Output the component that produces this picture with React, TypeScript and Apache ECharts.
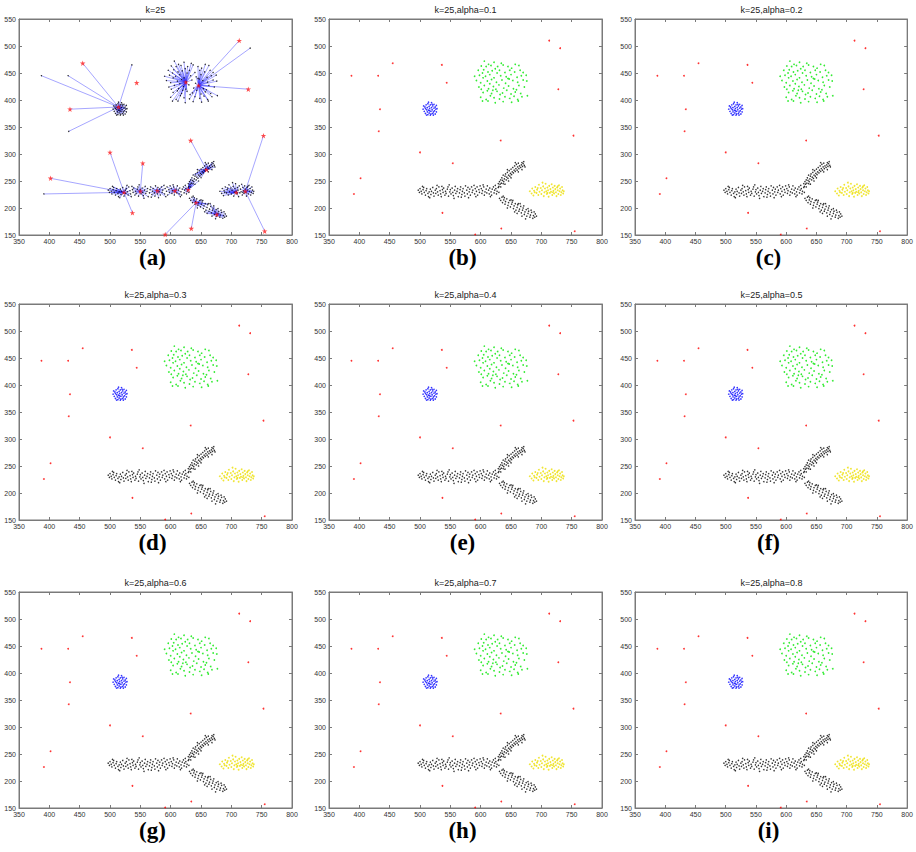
import React, { useEffect, useRef } from 'react';
import * as echarts from 'echarts';

type P = [number, number];

const panelTitles = [
  'k=25',
  'k=25,alpha=0.1',
  'k=25,alpha=0.2',
  'k=25,alpha=0.3',
  'k=25,alpha=0.4',
  'k=25,alpha=0.5',
  'k=25,alpha=0.6',
  'k=25,alpha=0.7',
  'k=25,alpha=0.8',
];
const panelLabels = ['(a)', '(b)', '(c)', '(d)', '(e)', '(f)', '(g)', '(h)', '(i)'];

// Outliers drawn as red stars in (a)
const starOutliers: P[] = [
  [455, 468], [434, 383], [500, 303], [402, 255], [554, 283], [537, 191], [591, 151],
  [634, 162], [633, 325], [713, 510], [728, 420], [753, 334], [755, 157],
];
// Outlier drawn as red star in (a) with no link
const isolatedStars: P[] = [[544, 432]];
// Outliers drawn as small black dots in (a)
const dotOutliers: P[] = [[387, 445], [431, 445], [432, 342], [391, 226], [536, 465], [731, 496]];

// Cluster centres in (a)
const centers: P[] = [
  [514, 387], [625, 433], [646, 427], [523, 229], [550, 231], [578, 232], [607, 232],
  [629, 234], [659, 271], [642, 210], [676, 188], [708, 229], [723, 231],
];

const blueCluster: P[] = [
  [505, 383], [507, 379], [508, 387], [509, 375], [510, 391], [511, 382], [512, 378], [512, 386],
  [513, 373], [513, 393], [514, 381], [515, 388], [515, 376], [516, 384], [517, 372], [517, 391],
  [518, 379], [519, 386], [519, 395], [520, 382], [521, 375], [521, 389], [522, 378], [523, 385],
  [523, 392], [524, 380], [525, 374], [525, 387], [526, 383], [527, 378], [527, 390], [509, 384],
  [511, 372], [514, 396], [506, 389], [518, 374], [520, 392], [522, 372], [516, 380], [528, 384],
];

const greenCluster: P[] = [
  [606, 472], [622, 470], [634, 468], [613, 466],
  [601, 463], [609, 462], [617, 464], [628, 462], [637, 465], [645, 462], [657, 466], [663, 464], [651, 459], [624, 458],
  [596, 455], [605, 456], [612, 452], [619, 454], [631, 455], [640, 451], [648, 455], [656, 452], [665, 455], [670, 451], [627, 450], [603, 450],
  [590, 444], [598, 446], [608, 444], [615, 447], [622, 441], [633, 445], [642, 443], [650, 447], [660, 442], [667, 445], [675, 446], [645, 440], [604, 441],
  [593, 436], [600, 432], [611, 435], [618, 438], [626, 433], [635, 437], [641, 431], [653, 436], [661, 433], [670, 437], [676, 435], [615, 430], [647, 439],
  [597, 424], [606, 427], [613, 421], [621, 425], [630, 428], [638, 422], [646, 426], [654, 421], [663, 427], [672, 424], [601, 420], [625, 420], [659, 419],
  [604, 414], [611, 417], [618, 412], [627, 416], [636, 413], [643, 418], [650, 411], [657, 415], [666, 412], [677, 408], [620, 418], [632, 410],
  [600, 405], [609, 401], [616, 408], [622, 404], [631, 402], [640, 406], [648, 403], [661, 401], [668, 406], [612, 398], [655, 407],
  [624, 395], [637, 397], [651, 396], [603, 398], [662, 398],
];

const yellowCluster: P[] = [
  [681, 231], [684, 227], [685, 236], [687, 223], [688, 232], [690, 239], [692, 228], [693, 234],
  [695, 224], [696, 243], [697, 230], [699, 237], [700, 226], [701, 233], [703, 240], [704, 222],
  [705, 229], [706, 236], [707, 245], [708, 231], [709, 226], [710, 238], [711, 233], [712, 221],
  [713, 241], [714, 228], [715, 235], [716, 230], [717, 244], [718, 224], [719, 238], [720, 232],
  [721, 227], [722, 241], [723, 235], [724, 229], [725, 222], [726, 238], [727, 233], [728, 226],
  [729, 242], [730, 231], [731, 236], [732, 224], [733, 229], [734, 239], [735, 233], [736, 227],
  [694, 237], [702, 247], [710, 228], [719, 229], [727, 240], [689, 229], [737, 231],
];

const blackBand: P[] = [
  [497, 233], [499, 229], [500, 236], [502, 231], [503, 226], [505, 234], [506, 238], [507, 229],
  [509, 224], [510, 232], [511, 236], [513, 227], [514, 221], [515, 230], [517, 235], [518, 225],
  [519, 231], [521, 238], [522, 228], [523, 222], [525, 233], [526, 227], [527, 236], [529, 230],
  [530, 224], [531, 239], [533, 232], [534, 226], [535, 221], [537, 234], [538, 229], [539, 237],
  [541, 224], [542, 231], [543, 227], [545, 235], [546, 239], [547, 222], [549, 230], [550, 234],
  [551, 226], [553, 237], [554, 229], [555, 223], [557, 233], [558, 240], [559, 227], [561, 231],
  [562, 236], [563, 221], [565, 228], [566, 234], [567, 239], [569, 225], [570, 231], [571, 236],
  [573, 228], [574, 222], [575, 241], [577, 233], [578, 226], [579, 238], [581, 230], [582, 235],
  [583, 224], [585, 239], [586, 229], [587, 233], [589, 242], [590, 226], [591, 236], [593, 231],
  [594, 239], [595, 224], [597, 234], [598, 229], [599, 241], [601, 236], [602, 227], [603, 232],
  [605, 239], [606, 224], [607, 230], [609, 235], [610, 228], [611, 241], [613, 233], [614, 226],
  [615, 237], [617, 230], [618, 224], [619, 235], [621, 239], [622, 228], [623, 233], [625, 236],
  [626, 226], [627, 231], [629, 238], [630, 229], [504, 240], [516, 219], [528, 242], [536, 240],
  [548, 243], [556, 218], [568, 220], [580, 219], [592, 221], [604, 243], [616, 221], [624, 242],
];

const blackUpper: P[] = [
  [630, 240], [632, 244], [631, 249], [634, 246], [636, 251], [635, 256], [638, 249], [639, 254],
  [640, 259], [642, 252], [643, 257], [641, 263], [645, 255], [646, 261], [644, 266], [648, 259],
  [649, 264], [647, 269], [651, 262], [652, 267], [650, 272], [654, 265], [655, 270], [653, 275],
  [657, 268], [658, 273], [656, 278], [660, 270], [661, 276], [659, 281], [663, 273], [664, 278],
  [662, 283], [666, 275], [667, 280], [669, 277], [670, 282], [672, 279], [668, 284], [673, 276],
  [633, 239], [637, 245], [629, 245], [633, 252], [646, 250], [640, 244], [650, 256], [662, 267],
  [668, 271], [671, 286], [657, 284], [644, 271], [637, 261],
];

const blackLower: P[] = [
  [631, 218], [633, 214], [635, 220], [636, 210], [638, 215], [640, 207], [641, 212], [643, 217],
  [645, 205], [646, 210], [648, 214], [649, 202], [651, 207], [652, 211], [654, 199], [655, 204],
  [657, 208], [658, 196], [660, 201], [661, 206], [663, 194], [664, 198], [666, 203], [667, 191],
  [669, 196], [670, 200], [672, 188], [673, 193], [675, 197], [676, 185], [678, 190], [679, 194],
  [681, 183], [682, 187], [684, 192], [686, 181], [687, 186], [689, 183], [690, 189], [644, 200],
  [656, 193], [668, 185], [637, 222], [650, 215], [662, 208], [639, 219], [653, 214], [665, 208],
  [671, 204], [678, 199], [683, 196], [688, 193], [692, 185], [674, 180], [660, 190],
];

const blackCluster: P[] = [...blackBand, ...blackUpper, ...blackLower];
const allOutliers: P[] = [...starOutliers, ...isolatedStars, ...dotOutliers];

const PLOT_W = 273;
const PLOT_H = 216;
const colLeft = [19, 329, 635];
const rowTop = [19, 304, 592];

const starPath =
  'path://M12,0 L14.8,8.6 L24,8.6 L16.6,14 L19.4,22.8 L12,17.4 L4.6,22.8 L7.4,14 L0,8.6 L9.2,8.6 Z';

function nearest(p: P): P {
  let best = centers[0];
  let bd = Infinity;
  for (const c of centers) {
    const d = (c[0] - p[0]) ** 2 + (c[1] - p[1]) ** 2;
    if (d < bd) {
      bd = d;
      best = c;
    }
  }
  return best;
}

export default function App() {
  const ref = useRef<HTMLDivElement>(null);
  useEffect(() => {
    if (!ref.current) return;
    const chart = echarts.init(ref.current, undefined, { renderer: 'svg' });
    const grids: any[] = [];
    const xAxes: any[] = [];
    const yAxes: any[] = [];
    const series: any[] = [];
    const graphics: any[] = [];
    const axisColor = '#7a7a7a';
    const font = 'Liberation Sans, Arial, sans-serif';

    for (let i = 0; i < 9; i++) {
      const r = Math.floor(i / 3);
      const c = i % 3;
      const left = colLeft[c];
      const top = rowTop[r];
      grids.push({
        left, top, width: PLOT_W, height: PLOT_H,
        show: true, borderColor: axisColor, borderWidth: 1, backgroundColor: '#fff',
      });
      const axisCommon = {
        gridIndex: i,
        type: 'value',
        axisLine: { show: true, onZero: false, lineStyle: { color: axisColor, width: 1 } },
        axisTick: { show: true, inside: true, length: 3, lineStyle: { color: axisColor } },
        axisLabel: { fontSize: 7, color: '#333', margin: 3, fontFamily: font },
        splitLine: { show: false },
      };
      xAxes.push({ ...axisCommon, min: 350, max: 800, interval: 50, position: 'bottom' });
      yAxes.push({ ...axisCommon, min: 150, max: 550, interval: 50, position: 'left' });
      // box ticks on top and right (no labels)
      xAxes.push({ ...axisCommon, min: 350, max: 800, interval: 50, position: 'top', axisLabel: { show: false } });
      yAxes.push({ ...axisCommon, min: 150, max: 550, interval: 50, position: 'right', axisLabel: { show: false } });

      graphics.push({
        type: 'text',
        x: left + PLOT_W / 2,
        y: top - 9,
        style: {
          text: panelTitles[i], fontSize: 9, fontFamily: font, fill: '#222',
          align: 'center', verticalAlign: 'middle', textAlign: 'center', textVerticalAlign: 'middle',
        },
      });
      graphics.push({
        type: 'text',
        x: left + PLOT_W / 2 - 3,
        y: top + PLOT_H + 22,
        style: {
          text: panelLabels[i], fontSize: 23, fontWeight: 'bold', fontFamily: 'Liberation Serif, Times New Roman, serif',
          fill: '#000', align: 'center', verticalAlign: 'middle', textAlign: 'center', textVerticalAlign: 'middle',
        },
      });

      const xi = i * 2;
      const yi = i * 2;
      if (i === 0) {
        const linked: P[] = [...blueCluster, ...greenCluster, ...blackCluster, ...yellowCluster, ...starOutliers, ...dotOutliers];
        series.push({
          type: 'lines', coordinateSystem: 'cartesian2d', xAxisIndex: xi, yAxisIndex: yi,
          data: linked.map((p) => ({ coords: [p, nearest(p)] })),
          lineStyle: { color: '#2a2aff', width: 0.6, opacity: 0.7 },
          silent: true, z: 1,
        });
        series.push({
          type: 'scatter', xAxisIndex: xi, yAxisIndex: yi,
          data: [...blueCluster, ...greenCluster, ...blackCluster, ...yellowCluster, ...dotOutliers],
          symbolSize: 1.4, itemStyle: { color: '#000' }, z: 2,
        });
        series.push({
          type: 'scatter', xAxisIndex: xi, yAxisIndex: yi,
          data: [...centers, ...starOutliers, ...isolatedStars],
          symbol: starPath, symbolSize: 5.5, itemStyle: { color: '#ff2020' }, z: 3,
        });
      } else {
        const groups: [P[], string, number][] = [
          [allOutliers, '#ff0000', 1.8],
          [blueCluster, '#0000ff', 1.6],
          [greenCluster, '#00e600', 1.7],
          [blackCluster, '#000000', 1.5],
          [yellowCluster, '#ecdf00', 1.8],
        ];
        for (const [data, color, size] of groups) {
          series.push({
            type: 'scatter', xAxisIndex: xi, yAxisIndex: yi,
            data, symbolSize: size, itemStyle: { color },
          });
        }
      }
    }

    chart.setOption({
      animation: false,
      backgroundColor: '#fff',
      grid: grids,
      xAxis: xAxes,
      yAxis: yAxes,
      series,
      graphic: { elements: graphics },
    });
    return () => chart.dispose();
  }, []);
  return (
    <div
      ref={ref}
      style={{ position: 'fixed', left: 0, top: 0, width: 916, height: 852, background: '#fff' }}
    />
  );
}
